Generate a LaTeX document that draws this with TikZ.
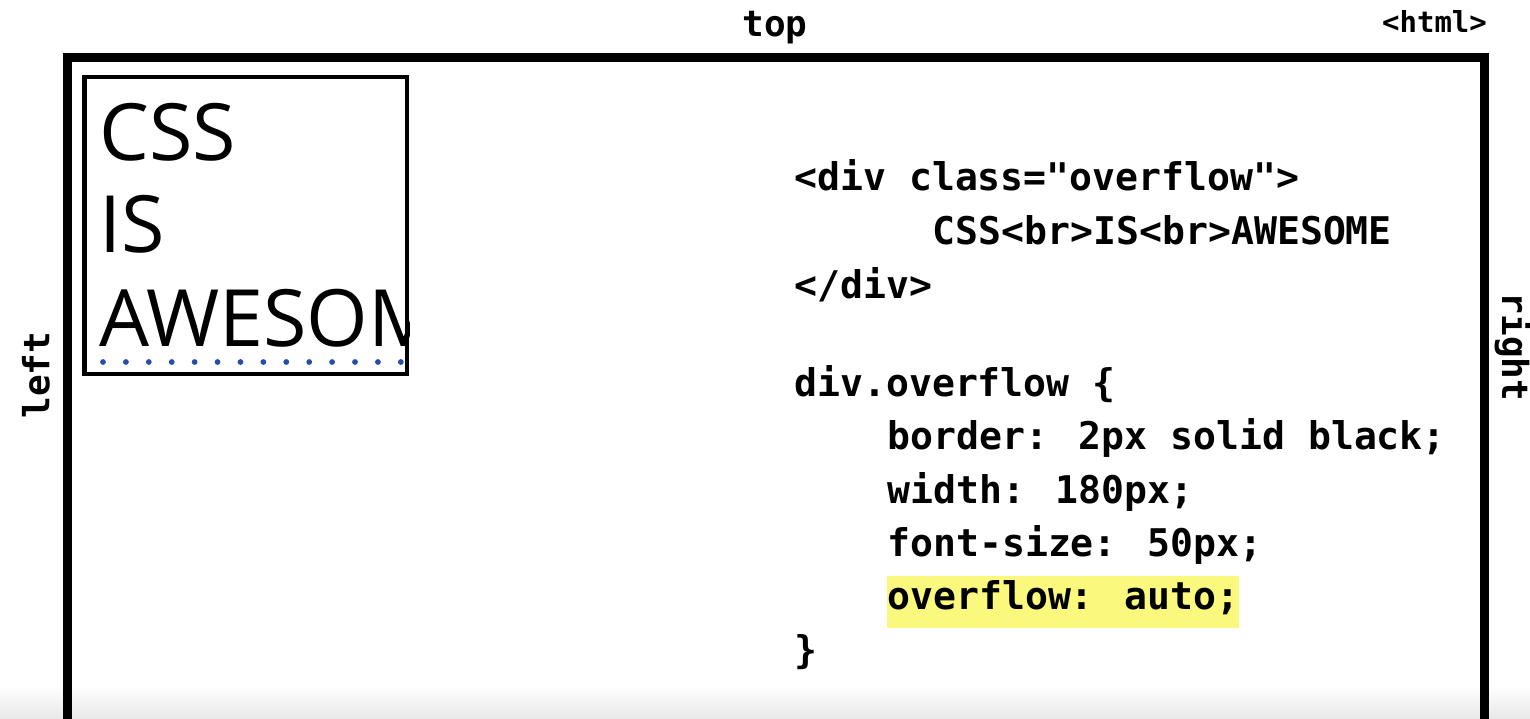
\documentclass[tikz,border=0pt]{standalone}
\usepackage{fontspec}
\newfontfamily\codefont{DejaVu Sans Mono}
\newfontfamily\boxfont{Open Sans}
\usetikzlibrary{positioning}
\definecolor{hlyellow}{RGB}{250,249,125}
\definecolor{dotblue}{RGB}{38,78,168}
\tikzset{
  code/.style={anchor=base west,inner sep=0pt,font=\codefont\bfseries\fontsize{21.7}{26}\selectfont},
}

\begin{document}
\begin{tikzpicture}[x=0.02cm,y=-0.02cm,
   lbl/.style={inner sep=0pt,font=\codefont\bfseries\fontsize{20.5}{24}\selectfont},
   ovbox/.style={draw,line width=2.8pt,minimum width=6.45cm,minimum height=5.94cm,inner sep=0pt},
   big/.style={anchor=base west,inner sep=0pt,font=\boxfont\fontsize{45}{52}\selectfont},
   dotrow/.style={dotblue,line width=3.3pt,line cap=round,dash pattern=on 0pt off 13.04pt}]
\useasboundingbox (0,0) rectangle (1530,719);
% fade at the bottom
\shade[top color=white,bottom color=black!9] (0,685) rectangle (1530,719);
% html frame
\draw[line width=5.1pt] (67.5,719) -- (67.5,57.5) -- (1484.5,57.5) -- (1484.5,719);
\node[lbl,anchor=base] (top) at (775,37) {top};
\node[lbl,anchor=base,font=\codefont\bfseries\fontsize{16.5}{20}\selectfont] (html) at (1434.5,33) {<html>};
\node[lbl,rotate=90] (left) at (36,375) {left};
\node[lbl,rotate=-90] (right) at (1513,347) {right};
% overflowing div
\node[ovbox] (box) at (245.75,225.5) {};
\begin{scope}
  \clip (box.north west) rectangle (box.south east);
  \node[big] (w1) at (99,161) {CSS};
  \node[big] (w2) at (99,253) {IS};
  \node[big] (w3) at (99,346) {AWESOME};
  \draw[dotrow] (103,362) -- (430,362);
\end{scope}
% code
\node[code] (c1) at (794,191) {<div class="overflow">};
\node[code] (c2) at (932.5,245) {CSS<br>IS<br>AWESOME};
\node[code] (c3) at (794,298) {</div>};
\node[code] (c4) at (794,396) {div.overflow \{};
\node[code] (c5) at (887,449) {border: 2px solid black;};
\node[code] (c6) at (887,503) {width: 180px;};
\node[code] (c7) at (887,556) {font-size: 50px;};
\node[code,fill=hlyellow,text height=19pt,text depth=11pt] (c8) at (887,609) {overflow: auto;};
\node[code] (c9) at (794,663) {\}};
\end{tikzpicture}
\end{document}
